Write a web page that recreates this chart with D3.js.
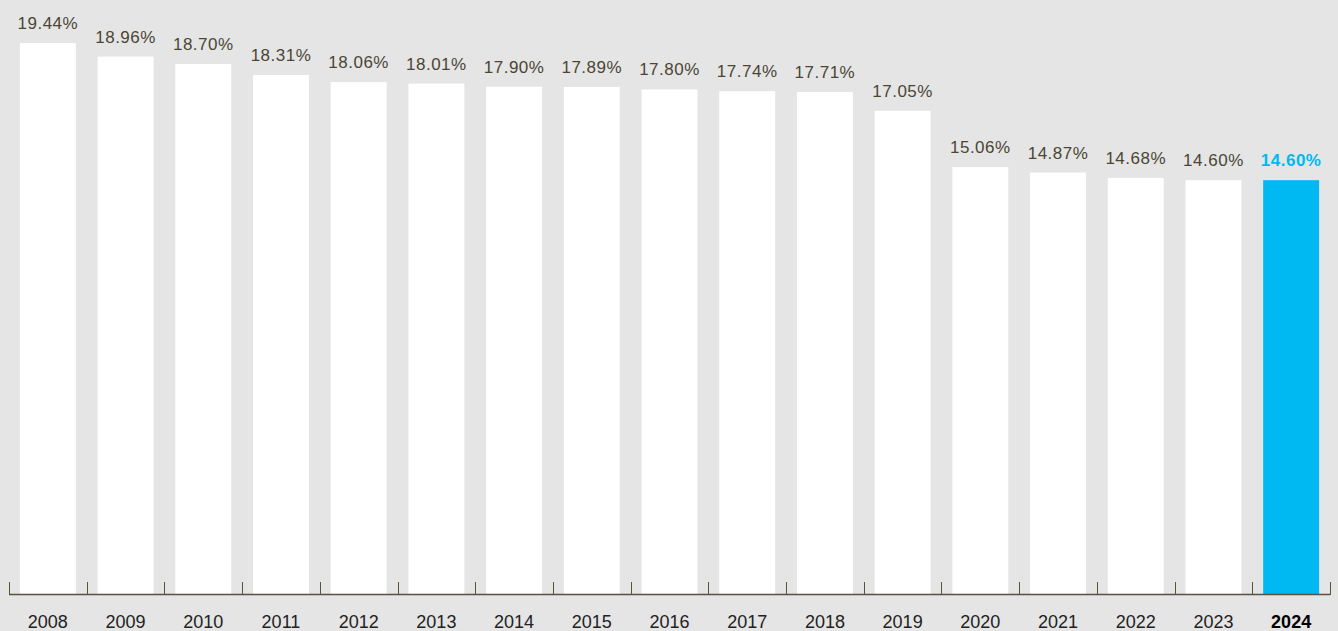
<!DOCTYPE html>
<html>
<head>
<meta charset="utf-8">
<script src="https://cdn.jsdelivr.net/npm/d3@7"></script>
<style>
  body { margin: 0; background: #e5e5e5; }
  svg { display: block; font-family: "Liberation Sans", Arial, sans-serif; }
  .val { font-size: 17px; fill: #4a4535; letter-spacing: 0.5px; }
  .year { font-size: 18px; fill: #222; }
</style>
</head>
<body>
<svg width="1338" height="631"></svg>
<script>
const years = ['2008', '2009', '2010', '2011', '2012', '2013', '2014', '2015', '2016',
  '2017', '2018', '2019', '2020', '2021', '2022', '2023', '2024'];
const values = [19.44, 18.96, 18.70, 18.31, 18.06, 18.01, 17.90, 17.89, 17.80,
  17.74, 17.71, 17.05, 15.06, 14.87, 14.68, 14.60, 14.60];
const highlight = '2024';

const svg = d3.select('svg');
const baseY = 594;

const x = d3.scaleBand()
  .domain(years)
  .range([9, 1330])
  .paddingInner(0.28)
  .paddingOuter(0.14);

const y = d3.scaleLinear()
  .domain([0, 19.44])
  .range([baseY, 43]);

// Bars
svg.selectAll('rect.bar')
  .data(years)
  .enter()
  .append('rect')
  .attr('class', 'bar')
  .attr('x', d => x(d))
  .attr('width', x.bandwidth())
  .attr('y', (d, i) => y(values[i]))
  .attr('height', (d, i) => baseY - y(values[i]))
  .attr('fill', d => d === highlight ? '#00b9f2' : '#ffffff');

// Value labels
svg.selectAll('text.val')
  .data(years)
  .enter()
  .append('text')
  .attr('class', 'val')
  .attr('x', d => x(d) + x.bandwidth() / 2)
  .attr('y', (d, i) => y(values[i]) - 14)
  .attr('text-anchor', 'middle')
  .style('fill', d => d === highlight ? '#00b9f2' : null)
  .style('font-weight', d => d === highlight ? 'bold' : null)
  .text((d, i) => values[i].toFixed(2) + '%');

// Axis line and ticks at band boundaries
const step = x.step();
const x0 = x.range()[0];
svg.append('line')
  .attr('x1', x0).attr('x2', x.range()[1])
  .attr('y1', baseY + 0.5).attr('y2', baseY + 0.5)
  .attr('stroke', '#5a5241').attr('stroke-width', 1.5);

svg.selectAll('line.tick')
  .data(d3.range(years.length + 1))
  .enter()
  .append('line')
  .attr('class', 'tick')
  .attr('x1', i => Math.round(x0 + i * step) + 0.5)
  .attr('x2', i => Math.round(x0 + i * step) + 0.5)
  .attr('y1', baseY - 12)
  .attr('y2', baseY + 1)
  .attr('stroke', '#5a5241').attr('stroke-width', 1);

// Year labels
svg.selectAll('text.year')
  .data(years)
  .enter()
  .append('text')
  .attr('class', 'year')
  .attr('x', d => x(d) + x.bandwidth() / 2)
  .attr('y', 628)
  .attr('text-anchor', 'middle')
  .style('font-weight', d => d === highlight ? 'bold' : null)
  .style('fill', d => d === highlight ? '#000' : null)
  .text(d => d);
</script>
</body>
</html>
